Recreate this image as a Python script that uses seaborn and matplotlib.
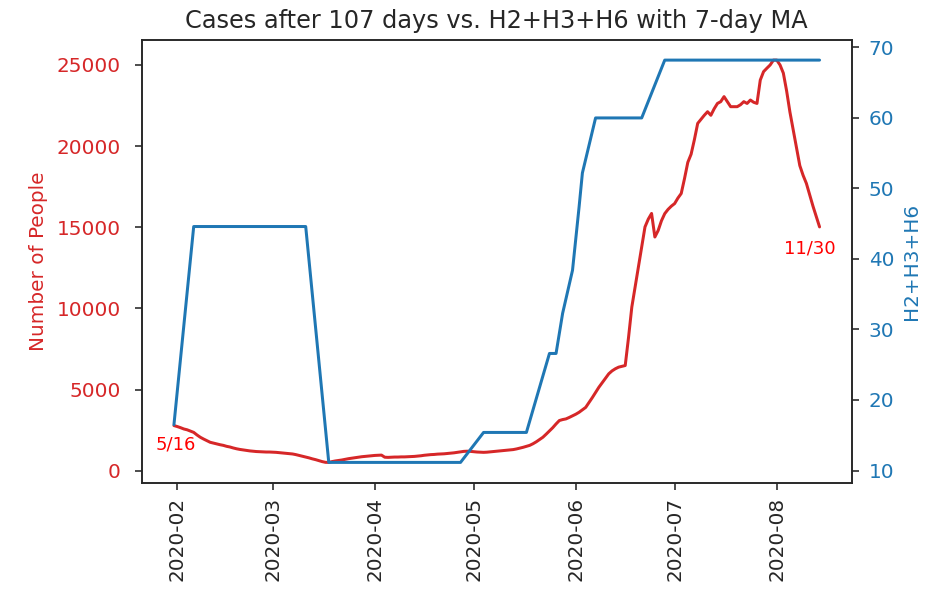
import matplotlib
matplotlib.use("Agg")
import matplotlib.pyplot as plt
import matplotlib.dates as mdates
import pandas as pd
import seaborn as sns

# 7-day moving average of cases, shifted back 107 days (one value per day)
case_start = "2020-01-31"
cases_ma = [
    2780, 2720, 2650, 2570, 2520, 2440, 2360, 2200, 2060, 1950, 1850,
    1750, 1700, 1650, 1600, 1560, 1500, 1460, 1400, 1350, 1310,
    1280, 1250, 1220, 1200, 1180, 1170, 1160, 1150, 1150, 1140,
    1130, 1110, 1090, 1070, 1050, 1030, 990, 940, 890, 840,
    790, 730, 680, 620, 560, 515, 510, 560, 600, 630,
    660, 700, 740, 770, 800, 830, 860, 880, 900, 920,
    940, 950, 960, 830, 820, 830, 840, 840, 850, 850,
    860, 870, 880, 900, 920, 950, 970, 990, 1000, 1020,
    1030, 1040, 1060, 1080, 1100, 1130, 1160, 1190, 1200, 1190,
    1170, 1150, 1140, 1130, 1140, 1160, 1180, 1200, 1220, 1240,
    1260, 1280, 1300, 1340, 1390, 1440, 1500, 1560, 1660, 1780,
    1920, 2060, 2250, 2450, 2650, 2880, 3090, 3150, 3190, 3280,
    3380, 3480, 3600, 3750, 3900, 4200, 4500, 4820, 5140, 5420,
    5700, 5970, 6150, 6280, 6380, 6430, 6480, 8200, 10080, 11300,
    12550, 13800, 15020, 15500, 15850, 14400, 14800, 15400, 15840, 16100,
    16300, 16460, 16800, 17080, 18000, 19000, 19500, 20400, 21400, 21650,
    21900, 22120, 21900, 22300, 22630, 22740, 23050, 22740, 22430, 22430,
    22430, 22550, 22740, 22630, 22840, 22700, 22630, 24070, 24590, 24800,
    25000, 25300, 25300, 25000, 24500, 23400, 22100, 21000, 19900, 18800,
    18200, 17700, 17000, 16300, 15650, 15020,
]

# H2+H3+H6 index (7-day MA) at its change points
index_dates = [
    "2020-01-31", "2020-02-06", "2020-03-11", "2020-03-18", "2020-04-27",
    "2020-05-04", "2020-05-17", "2020-05-24", "2020-05-26", "2020-05-28",
    "2020-05-31", "2020-06-02", "2020-06-03", "2020-06-07", "2020-06-21",
    "2020-06-28", "2020-08-14",
]
index_values = [
    16.5, 44.6, 44.6, 11.15, 11.15,
    15.4, 15.4, 26.6, 26.6, 32.3,
    38.4, 47.4, 52.2, 60.0, 60.0,
    68.2, 68.2,
]

start_label = "5/16"
end_label = "11/30"

case_dates = pd.date_range(case_start, periods=len(cases_ma), freq="D")
cases_df = pd.DataFrame({"date": case_dates, "cases": cases_ma})
index_df = pd.DataFrame({"date": pd.to_datetime(index_dates), "index": index_values})

sns.set_style("ticks")
plt.rcParams["font.family"] = ["DejaVu Sans"]

red = "tab:red"
blue = "tab:blue"

fig = plt.figure(figsize=(932 / 144, 596 / 144), dpi=144)
ax = fig.add_axes([0.152, 0.1904, 0.762, 0.7425])

sns.lineplot(data=cases_df, x="date", y="cases", ax=ax, color=red, linewidth=1.5)
ax.set_xlabel("")
ax.set_ylabel("Number of People", color=red)
ax.tick_params(axis="y", labelcolor=red, pad=7)

ax2 = ax.twinx()
sns.lineplot(data=index_df, x="date", y="index", ax=ax2, color=blue, linewidth=1.5)
ax2.set_ylabel("H2+H3+H6", color=blue)
ax2.tick_params(axis="y", labelcolor=blue, pad=5)

ax.xaxis.set_major_locator(mdates.MonthLocator())
ax.xaxis.set_major_formatter(mdates.DateFormatter("%Y-%m"))
for lbl in ax.get_xticklabels():
    lbl.set_rotation(90)

ax.set_title("Cases after 107 days vs. H2+H3+H6 with 7-day MA")

ax.annotate(start_label, xy=(case_dates[0], cases_ma[0]), xytext=(1, -9.5),
            textcoords="offset points", ha="center", va="center",
            color="red", fontsize=9)
ax.annotate(end_label, xy=(case_dates[-1], cases_ma[-1]), xytext=(-4.75, -10.8),
            textcoords="offset points", ha="center", va="center",
            color="red", fontsize=9)

fig.savefig("out.png", dpi=144)
